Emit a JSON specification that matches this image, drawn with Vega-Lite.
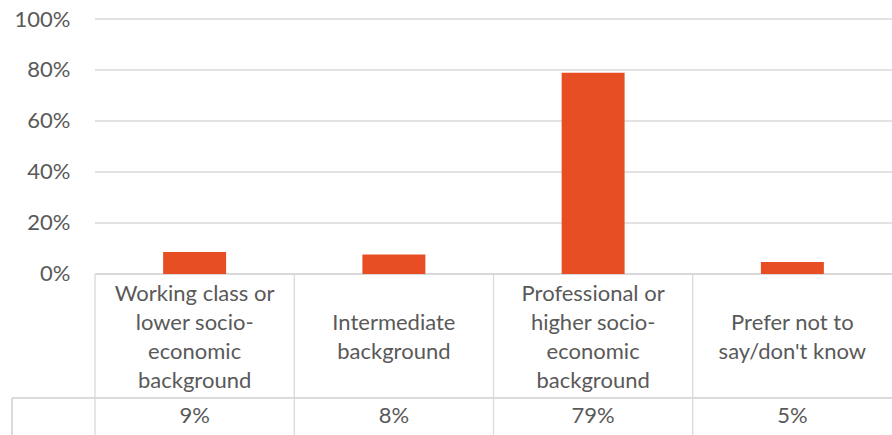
{
  "$schema": "https://vega.github.io/schema/vega-lite/v6.json",
  "width": 797,
  "height": 416,
  "padding": {"left": 95, "top": 19, "right": 0, "bottom": 0},
  "autosize": {"type": "none"},
  "background": "white",
  "config": {"view": {"stroke": null}, "font": "Lato"},
  "data": {
    "values": [
      {"cat": "Working class or lower socio-economic background", "lines": ["Working class or", "lower socio-", "economic", "background"], "share": 0.086},
      {"cat": "Intermediate background", "lines": ["", "Intermediate", "background", ""], "share": 0.076},
      {"cat": "Professional or higher socio-economic background", "lines": ["Professional or", "higher socio-", "economic", "background"], "share": 0.789},
      {"cat": "Prefer not to say/don't know", "lines": ["", "Prefer not to", "say/don't know", ""], "share": 0.047}
    ]
  },
  "layer": [
    {
      "data": {"values": [{"t": 0.2}, {"t": 0.4}, {"t": 0.6}, {"t": 0.8}, {"t": 1.0}]},
      "mark": {"type": "rule", "color": "#d9d9d9", "strokeWidth": 1.3},
      "encoding": {
        "y": {
          "field": "t", "type": "quantitative",
          "scale": {"domain": [-0.6314, 1], "nice": false, "zero": false},
          "axis": {
            "values": [0, 0.2, 0.4, 0.6, 0.8, 1.0], "format": ".0%", "title": null,
            "domain": false, "ticks": false, "grid": false,
            "labelFont": "Lato", "labelFontSize": 22, "labelColor": "#595959", "labelPadding": 25
          }
        }
      }
    },
    {
      "mark": {"type": "rule", "color": "#d9d9d9", "strokeWidth": 1.3},
      "encoding": {
        "x": {"field": "cat", "type": "nominal", "bandPosition": 0, "sort": null, "scale": {"paddingInner": 0, "paddingOuter": 0}, "axis": null},
        "y": {
          "datum": 0, "type": "quantitative",
          "scale": {"domain": [-0.6314, 1], "nice": false, "zero": false},
          "axis": {
            "values": [0, 0.2, 0.4, 0.6, 0.8, 1.0], "format": ".0%", "title": null,
            "domain": false, "ticks": false, "grid": false,
            "labelFont": "Lato", "labelFontSize": 22, "labelColor": "#595959", "labelPadding": 25
          }
        },
        "y2": {"datum": -0.6314}
      }
    },
    {
      "mark": {"type": "rule", "color": "#d9d9d9", "strokeWidth": 1.3},
      "encoding": {
        "y": {
          "datum": 0, "type": "quantitative",
          "scale": {"domain": [-0.6314, 1], "nice": false, "zero": false},
          "axis": {
            "values": [0, 0.2, 0.4, 0.6, 0.8, 1.0], "format": ".0%", "title": null,
            "domain": false, "ticks": false, "grid": false,
            "labelFont": "Lato", "labelFontSize": 22, "labelColor": "#595959", "labelPadding": 25
          }
        }
      }
    },
    {
      "mark": {"type": "rule", "color": "#d9d9d9", "strokeWidth": 1.3},
      "encoding": {
        "x": {"datum": "Working class or lower socio-economic background", "type": "nominal", "bandPosition": -0.4166, "axis": null},
        "x2": {"datum": "Prefer not to say/don't know", "bandPosition": 1},
        "y": {
          "datum": -0.486, "type": "quantitative",
          "scale": {"domain": [-0.6314, 1], "nice": false, "zero": false},
          "axis": {
            "values": [0, 0.2, 0.4, 0.6, 0.8, 1.0], "format": ".0%", "title": null,
            "domain": false, "ticks": false, "grid": false,
            "labelFont": "Lato", "labelFontSize": 22, "labelColor": "#595959", "labelPadding": 25
          }
        }
      }
    },
    {
      "mark": {"type": "rule", "color": "#d9d9d9", "strokeWidth": 1.3},
      "encoding": {
        "x": {"datum": "Working class or lower socio-economic background", "type": "nominal", "bandPosition": -0.4166, "axis": null},
        "y": {
          "datum": -0.486, "type": "quantitative",
          "scale": {"domain": [-0.6314, 1], "nice": false, "zero": false},
          "axis": {
            "values": [0, 0.2, 0.4, 0.6, 0.8, 1.0], "format": ".0%", "title": null,
            "domain": false, "ticks": false, "grid": false,
            "labelFont": "Lato", "labelFontSize": 22, "labelColor": "#595959", "labelPadding": 25
          }
        },
        "y2": {"datum": -0.6314}
      }
    },
    {
      "mark": {"type": "bar", "color": "#E84E23", "width": {"band": 0.316}},
      "encoding": {
        "x": {"field": "cat", "type": "nominal", "sort": null, "axis": null},
        "y": {
          "field": "share", "type": "quantitative",
          "scale": {"domain": [-0.6314, 1], "nice": false, "zero": false},
          "axis": {
            "values": [0, 0.2, 0.4, 0.6, 0.8, 1.0], "format": ".0%", "title": null,
            "domain": false, "ticks": false, "grid": false,
            "labelFont": "Lato", "labelFontSize": 22, "labelColor": "#595959", "labelPadding": 25
          }
        },
        "y2": {"datum": 0}
      }
    },
    {
      "mark": {"type": "text", "font": "Lato", "fontSize": 22, "color": "#595959", "lineHeight": 29, "baseline": "middle", "align": "center"},
      "encoding": {
        "x": {"field": "cat", "type": "nominal", "sort": null, "axis": null},
        "y": {
          "datum": -0.078, "type": "quantitative",
          "scale": {"domain": [-0.6314, 1], "nice": false, "zero": false},
          "axis": {
            "values": [0, 0.2, 0.4, 0.6, 0.8, 1.0], "format": ".0%", "title": null,
            "domain": false, "ticks": false, "grid": false,
            "labelFont": "Lato", "labelFontSize": 22, "labelColor": "#595959", "labelPadding": 25
          }
        },
        "text": {"field": "lines", "type": "nominal"}
      }
    },
    {
      "mark": {"type": "text", "font": "Lato", "fontSize": 22, "color": "#595959", "baseline": "middle", "align": "center"},
      "encoding": {
        "x": {"field": "cat", "type": "nominal", "sort": null, "axis": null},
        "y": {
          "datum": -0.557, "type": "quantitative",
          "scale": {"domain": [-0.6314, 1], "nice": false, "zero": false},
          "axis": {
            "values": [0, 0.2, 0.4, 0.6, 0.8, 1.0], "format": ".0%", "title": null,
            "domain": false, "ticks": false, "grid": false,
            "labelFont": "Lato", "labelFontSize": 22, "labelColor": "#595959", "labelPadding": 25
          }
        },
        "text": {"field": "share", "type": "quantitative", "format": ".0%"}
      }
    }
  ]
}
